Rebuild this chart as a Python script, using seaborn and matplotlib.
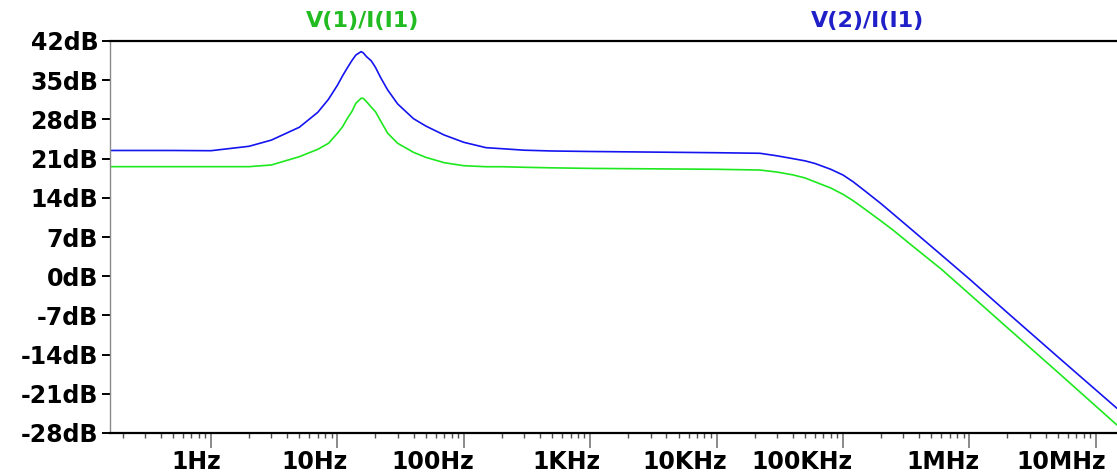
import numpy as np
import pandas as pd
import matplotlib
matplotlib.use("Agg")
import matplotlib.pyplot as plt
import matplotlib.transforms as mtrans
from matplotlib.ticker import LogLocator, NullFormatter, FixedLocator
import seaborn as sns

# ---- data ----
freq_hz = [0.159, 0.5, 1, 2, 3, 5, 7, 8.5, 10, 11, 12, 13, 14, 15.4, 16, 17, 18.5, 20,
           22, 25, 30, 40, 50, 70, 100, 150, 200, 300, 500, 1e3, 1e4, 2.2e4, 3e4, 4e4,
           5e4, 6e4, 8e4, 1e5, 1.2e5, 1.5e5, 2e5, 2.5e5, 3.5e5, 6e5, 1e6, 2e6, 5e6, 1.47e7]
v2_db = [22.45, 22.45, 22.41, 23.2, 24.3, 26.6, 29.27, 31.59, 34.09, 35.8,
         37.23, 38.48, 39.5, 40.1, 39.9, 39.2, 38.48, 37.3, 35.45, 33.25,
         30.75, 28.13, 26.82, 25.21, 23.91, 22.95, 22.77, 22.5, 22.36, 22.27,
         22.05, 21.95, 21.5, 21.0, 20.6, 20.13, 19.09, 18.07, 16.88, 15.18,
         12.95, 11.1, 8.3, 3.79, -0.5, -6.52, -14.39, -23.59]
v1_db = [19.56, 19.56, 19.56, 19.56, 19.86, 21.34, 22.66, 23.73, 25.52, 26.7,
         28.2, 29.38, 30.88, 31.77, 31.77, 31.16, 30.21, 29.38, 27.71, 25.52,
         23.73, 22.12, 21.23, 20.27, 19.73, 19.55, 19.55, 19.45, 19.35, 19.25,
         19.09, 18.96, 18.6, 18.1, 17.55, 16.85, 15.75, 14.62, 13.5, 11.93,
         9.85, 8.2, 5.5, 1.25, -3.18, -9.21, -17.14, -26.57]
series_names = ["V(1)/I(I1)", "V(2)/I(I1)"]
series_colors = ["#1ee81e", "#1414f0"]
title_colors = ["#22bb22", "#2020c8"]
y_ticks = [42, 35, 28, 21, 14, 7, 0, -7, -14, -21, -28]
y_labels = ["42dB", "35dB", "28dB", "21dB", "14dB", "7dB", "0dB", "-7dB", "-14dB", "-21dB", "-28dB"]
x_ticks = [1, 10, 100, 1e3, 1e4, 1e5, 1e6, 1e7]
x_labels = ["1Hz", "10Hz", "100Hz", "1KHz", "10KHz", "100KHz", "1MHz", "10MHz"]

df = pd.DataFrame({
    "freq": freq_hz * 2,
    "db": v1_db + v2_db,
    "trace": [series_names[0]] * len(freq_hz) + [series_names[1]] * len(freq_hz),
})

sns.set_theme(style="white")
plt.rcParams["font.family"] = ["DejaVu Sans"]

W, H = 1117, 474
fig = plt.figure(figsize=(W / 100, H / 100), dpi=100)
ax = fig.add_axes([110 / W, (H - 433) / H, (W - 110) / W, 392 / H])

sns.lineplot(data=df, x="freq", y="db", hue="trace", palette=series_colors,
             hue_order=series_names, estimator=None, sort=False, linewidth=1.2,
             legend=False, ax=ax)

ax.set_xscale("log")
ax.set_xlim(10 ** (-101 / 126.4), 10 ** (906 / 126.4))
ax.set_ylim(-28, 42)
ax.set_xlabel("")
ax.set_ylabel("")

ax.set_yticks(y_ticks)
ax.set_yticklabels(y_labels, fontsize=17, fontweight="bold", color="black")
ax.tick_params(axis="y", direction="out", length=5.5, width=1.4, color="black",
               pad=3, left=True)

ax.xaxis.set_major_locator(FixedLocator(x_ticks))
ax.set_xticklabels(x_labels, fontsize=17, fontweight="bold", color="black")
ax.xaxis.set_minor_locator(LogLocator(base=10, subs=np.arange(2, 10), numticks=30))
ax.xaxis.set_minor_formatter(NullFormatter())
ax.tick_params(axis="x", which="major", direction="out", length=11, width=1.4,
               color="#8a8a8a", pad=1, bottom=True)
ax.tick_params(axis="x", which="minor", direction="out", length=3.5, width=1.0,
               color="#505050", bottom=True)
offset = mtrans.ScaledTranslation(10 / 100, 0, fig.dpi_scale_trans)
for lab in ax.get_xticklabels():
    lab.set_horizontalalignment("right")
    lab.set_transform(lab.get_transform() + offset)

ax.grid(False)
for side in ["top", "bottom"]:
    ax.spines[side].set_color("black")
    ax.spines[side].set_linewidth(1.6)
ax.spines["left"].set_color("#8a8a8a")
ax.spines["left"].set_linewidth(1.0)
ax.spines["right"].set_visible(False)

title_x = [(363 - 110) / (W - 110), (868 - 110) / (W - 110)]
for name, tc, tx in zip(series_names, title_colors, title_x):
    ax.text(tx, 1.0 + 20 / 392, name, transform=ax.transAxes, ha="center",
            va="center", fontsize=16, fontweight="bold", color=tc)

fig.savefig("out.png", dpi=100)
